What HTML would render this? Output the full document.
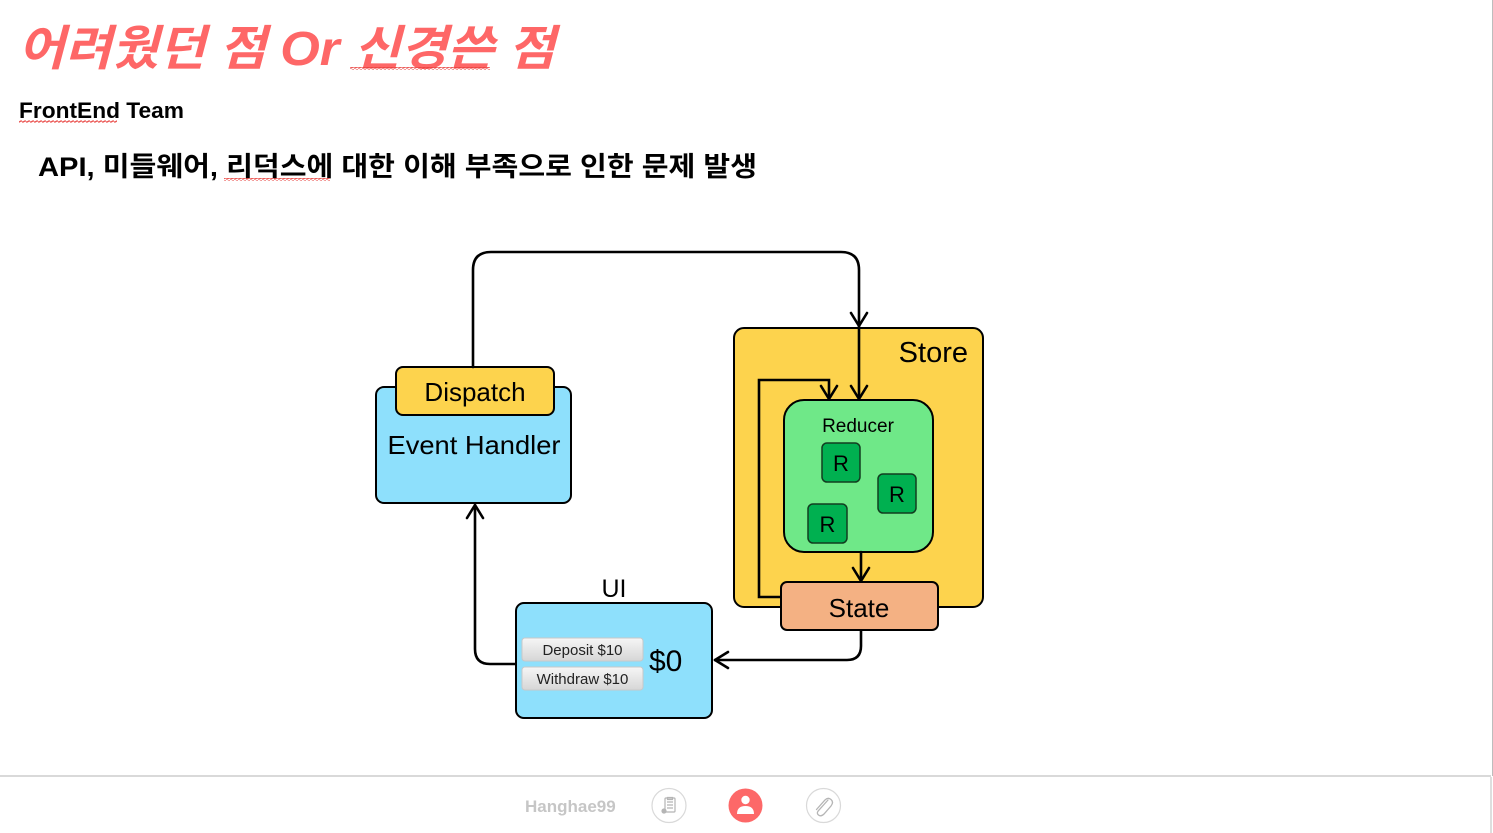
<!DOCTYPE html>
<html>
<head>
<meta charset="utf-8">
<style>
  html,body{margin:0;padding:0;background:#fff;}
  body{width:1493px;height:833px;overflow:hidden;position:relative;}
  svg{position:absolute;left:0;top:0;}
  .k{font-family:"Liberation Sans","Noto Sans CJK KR","NanumGothic",sans-serif;}
  .l{font-family:"Liberation Sans",sans-serif;}
</style>
</head>
<body>
<svg width="1493" height="833" viewBox="0 0 1493 833" xmlns="http://www.w3.org/2000/svg">
  <defs>
    <pattern id="wave" width="4" height="3" patternUnits="userSpaceOnUse">
      <path d="M0,2 L1,0.6 L3,2.4 L4,1" fill="none" stroke="#e8403c" stroke-width="0.9"/>
    </pattern>
    <linearGradient id="btn" x1="0" y1="0" x2="0" y2="1">
      <stop offset="0" stop-color="#f6f6f6"/>
      <stop offset="1" stop-color="#d6d6d6"/>
    </linearGradient>
  </defs>

  <!-- right edge & footer lines -->
  <rect x="1492" y="0" width="1" height="776" fill="#bdbdbd"/>
  <rect x="0" y="775" width="1491" height="2" fill="#d9d9d9"/>
  <rect x="1490" y="777" width="2" height="56" fill="#dedede"/>

  <!-- Title -->
  <text class="k" x="18" y="65" font-size="48" font-weight="bold" font-style="italic" fill="#fe6767" textLength="537" lengthAdjust="spacingAndGlyphs">어려웠던 점 Or 신경쓴 점</text>
  <rect x="350" y="67" width="140" height="3" fill="url(#wave)"/>

  <text class="l" x="19" y="118" font-size="22" font-weight="bold" fill="#000" textLength="165" lengthAdjust="spacingAndGlyphs">FrontEnd Team</text>
  <rect x="19" y="120" width="98" height="3" fill="url(#wave)"/>

  <text class="k" x="38" y="176" font-size="27" font-weight="bold" fill="#000" textLength="719" lengthAdjust="spacingAndGlyphs">API, 미들웨어, 리덕스에 대한 이해 부족으로 인한 문제 발생</text>
  <rect x="224" y="178" width="106" height="3" fill="url(#wave)"/>

  <!-- Store -->
  <rect x="734" y="328" width="249" height="279" rx="10" fill="#fdd34d" stroke="#000" stroke-width="2"/>
  <text class="l" x="968" y="362" font-size="29" text-anchor="end" fill="#000">Store</text>

  <!-- Event Handler + Dispatch -->
  <rect x="376" y="387" width="195" height="116" rx="8" fill="#8ee0fc" stroke="#000" stroke-width="2"/>
  <rect x="396" y="367" width="158" height="48" rx="7" fill="#fdd34d" stroke="#000" stroke-width="2"/>
  <text class="l" x="475" y="401" font-size="26" text-anchor="middle" fill="#000">Dispatch</text>
  <text class="l" x="474" y="454" font-size="26" text-anchor="middle" fill="#000" textLength="173" lengthAdjust="spacingAndGlyphs">Event Handler</text>

  <!-- Reducer -->
  <rect x="784" y="400" width="149" height="152" rx="20" fill="#6fe888" stroke="#000" stroke-width="2"/>
  <text class="l" x="858" y="432" font-size="19" text-anchor="middle" fill="#000">Reducer</text>
  <rect x="822" y="443" width="38" height="39" rx="5" fill="#00b050" stroke="#123d20" stroke-width="1.5"/>
  <text class="l" x="841" y="471" font-size="22" text-anchor="middle" fill="#000">R</text>
  <rect x="878" y="474" width="38" height="39" rx="5" fill="#00b050" stroke="#123d20" stroke-width="1.5"/>
  <text class="l" x="897" y="502" font-size="22" text-anchor="middle" fill="#000">R</text>
  <rect x="808" y="504" width="39" height="39" rx="5" fill="#00b050" stroke="#123d20" stroke-width="1.5"/>
  <text class="l" x="827.5" y="532" font-size="22" text-anchor="middle" fill="#000">R</text>

  <!-- connectors -->
  <g fill="none" stroke="#000" stroke-width="2.6" stroke-linecap="round" stroke-linejoin="round">
    <path d="M473,367 V270 Q473,252 491,252 H841 Q859,252 859,270 V399"/>
    <path d="M851,313 L859,326 L867,313"/>
    <path d="M851,386 L859,399 L867,386"/>
    <path d="M781,597 H759 V380 H829 V399" stroke-linejoin="miter" stroke-linecap="butt"/>
    <path d="M821,386 L829,399 L837,386"/>
    <path d="M861,552 V581"/>
    <path d="M853,568 L861,581 L869,568"/>
    <path d="M861,630 V646 Q861,660 847,660 H715"/>
    <path d="M728,652 L715,660 L728,668"/>
    <path d="M516,664 H490 Q475,664 475,649 V505"/>
    <path d="M467,518 L475,505 L483,518"/>
  </g>

  <!-- State -->
  <rect x="781" y="582" width="157" height="48" rx="6" fill="#f4b183" stroke="#000" stroke-width="2"/>
  <text class="l" x="859" y="617" font-size="26" text-anchor="middle" fill="#000">State</text>

  <!-- UI -->
  <text class="l" x="614" y="597" font-size="25" text-anchor="middle" fill="#000">UI</text>
  <rect x="516" y="603" width="196" height="115" rx="8" fill="#8ee0fc" stroke="#000" stroke-width="2"/>
  <rect x="522" y="638" width="121" height="23" rx="3" fill="url(#btn)" stroke="#c8c8c8" stroke-width="1"/>
  <text class="l" x="582.5" y="655" font-size="15" text-anchor="middle" fill="#222">Deposit $10</text>
  <rect x="522" y="667" width="121" height="23" rx="3" fill="url(#btn)" stroke="#c8c8c8" stroke-width="1"/>
  <text class="l" x="582.5" y="684" font-size="15" text-anchor="middle" fill="#222">Withdraw $10</text>
  <text class="l" x="649" y="671" font-size="30" fill="#000">$0</text>

  <!-- footer -->
  <text class="l" x="525" y="812" font-size="17" font-weight="bold" fill="#c6c6c6">Hanghae99</text>

  <circle cx="669" cy="805.5" r="17" fill="#fff" stroke="#d9d9d9" stroke-width="1.2"/>
  <g fill="none" stroke="#b5b5b5" stroke-width="1.2">
    <rect x="665" y="798" width="10" height="14" rx="1"/>
    <path d="M667.5,797.5 h5 v2 h-5 z"/>
    <path d="M667,802 h6 M667,805 h6 M667,808 h6"/>
  </g>
  <circle cx="664" cy="811" r="2.6" fill="#b5b5b5"/>

  <circle cx="745.5" cy="805.5" r="17" fill="#fd6868"/>
  <circle cx="745.5" cy="800" r="4.2" fill="#fff"/>
  <path d="M737,814 Q737,806 745.5,806 Q754,806 754,814 Z" fill="#fff"/>

  <circle cx="823.5" cy="805.5" r="17" fill="#fff" stroke="#d9d9d9" stroke-width="1.2"/>
  <path d="M828,800 L819,810 Q816,813 818.5,815 Q821,817 824,814 L831,806 Q834,802 831,799.5 Q828,797 825,800 L816.5,809.5" fill="none" stroke="#b5b5b5" stroke-width="1.3" stroke-linecap="round"/>
</svg>
</body>
</html>
